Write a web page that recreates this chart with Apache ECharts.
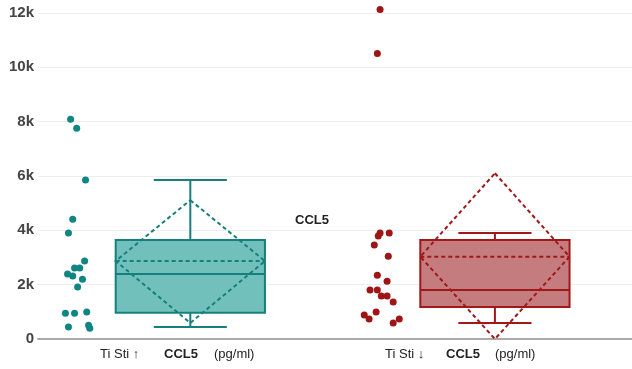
<!DOCTYPE html>
<html>
<head>
<meta charset="utf-8">
<script src="https://cdn.jsdelivr.net/npm/echarts@6/dist/echarts.min.js"></script>
<style>html,body{margin:0;padding:0;background:#fff;}#c{width:632px;height:369px;}</style>
</head>
<body>
<div id="c"></div>
<script>
// ---- data ----
var groups = ['Ti Sti ↑', 'Ti Sti ↓'];
var groupPos = [1, 2];
var yTicks = [0, 2000, 4000, 6000, 8000, 10000, 12000];
// box stats: [min, q1, median, q3, max]
var tealBox = [440, 967, 2390, 3640, 5850];
var redBox = [590, 1176, 1800, 3640, 3900];
// mean and diamond (low, high)
var tealMean = [2870, 590, 5110];
var redMean = [3030, 0, 6100];
// individual points
var tealValues = [8090, 7760, 5850, 4410, 3900, 2870, 2610, 2610, 2390, 2320, 2200, 1910, 950, 950, 990, 440, 510, 400];
var tealJitter = [-0.023, -0.003, 0.026, -0.016, -0.030, 0.023, 0.007, -0.010, -0.033, -0.016, 0.016, 0, -0.040, -0.010, 0.030, -0.030, 0.036, 0.040];
var redValues = [12130, 10510, 3900, 3900, 3790, 3460, 3050, 2350, 2130, 1800, 1800, 1580, 1580, 1360, 880, 740, 990, 590, 740];
var redJitter = [-0.007, -0.016, -0.007, 0.023, -0.013, -0.026, 0.020, -0.016, 0.016, -0.040, -0.016, -0.003, 0.016, 0.036, -0.059, -0.043, -0.020, 0.036, 0.056];

var dotOffset = -0.37;
var boxWidth = 0.49;
var capWidth = 0.24;

var colors = [
  {stroke: '#15807d', fill: '#72c0bc', dot: '#0f8682'},
  {stroke: '#a01818', fill: '#c47c7f', dot: '#9e1515'}
];

function dots(vals, jit, g) {
  return vals.map(function (v, i) { return [groupPos[g] + dotOffset + jit[i], v]; });
}

var boxData = [
  [groupPos[0]].concat(tealBox).concat(tealMean).concat([0]),
  [groupPos[1]].concat(redBox).concat(redMean).concat([1])
];

function renderBox(params, api) {
  var x = api.value(0);
  var ci = api.value(9);
  var c = colors[ci];
  var hw = api.size([boxWidth, 0])[0] / 2;
  var cw = api.size([capWidth, 0])[0] / 2;
  var pMin = api.coord([x, api.value(1)]);
  var pQ1 = api.coord([x, api.value(2)]);
  var pMed = api.coord([x, api.value(3)]);
  var pQ3 = api.coord([x, api.value(4)]);
  var pMax = api.coord([x, api.value(5)]);
  var pMean = api.coord([x, api.value(6)]);
  var pLo = api.coord([x, api.value(7)]);
  var pHi = api.coord([x, api.value(8)]);
  var cx = pMin[0];
  var solid = {stroke: c.stroke, lineWidth: 2, fill: null};
  var dashed = {stroke: c.stroke, lineWidth: 2, fill: null, lineDash: [4, 3]};
  return {
    type: 'group',
    children: [
      {type: 'line', shape: {x1: cx, y1: pQ3[1], x2: cx, y2: pMax[1]}, style: solid},
      {type: 'line', shape: {x1: cx, y1: pQ1[1], x2: cx, y2: pMin[1]}, style: solid},
      {type: 'line', shape: {x1: cx - cw, y1: pMax[1], x2: cx + cw, y2: pMax[1]}, style: solid},
      {type: 'line', shape: {x1: cx - cw, y1: pMin[1], x2: cx + cw, y2: pMin[1]}, style: solid},
      {type: 'rect', shape: {x: cx - hw, y: pQ3[1], width: 2 * hw, height: pQ1[1] - pQ3[1]},
        style: {fill: c.fill, stroke: c.stroke, lineWidth: 2}},
      {type: 'line', shape: {x1: cx - hw, y1: pMed[1], x2: cx + hw, y2: pMed[1]}, style: solid},
      {type: 'line', shape: {x1: cx - hw, y1: pMean[1], x2: cx + hw, y2: pMean[1]}, style: dashed},
      {type: 'polygon', shape: {points: [[cx, pHi[1]], [cx + hw, pMean[1]], [cx, pLo[1]], [cx - hw, pMean[1]]]}, style: dashed}
    ]
  };
}

var chart = echarts.init(document.getElementById('c'), null, {renderer: 'canvas'});
var labelFont = 'Liberation Sans, Arial, sans-serif';
chart.setOption({
  animation: false,
  backgroundColor: '#fff',
  grid: {left: 38, right: 0, top: 13, bottom: 30, containLabel: false},
  xAxis: {
    type: 'value', min: 0.5, max: 2.45,
    axisLine: {show: true, onZero: false, lineStyle: {color: '#aaa', width: 2}},
    axisTick: {show: false}, axisLabel: {show: false}, splitLine: {show: false}
  },
  yAxis: {
    type: 'value', min: yTicks[0], max: yTicks[yTicks.length - 1], interval: yTicks[1] - yTicks[0],
    axisLine: {show: false}, axisTick: {show: false},
    axisLabel: {margin: 4, color: '#444', fontSize: 15, fontWeight: 'bold', fontFamily: labelFont,
      formatter: function (v) { return v === 0 ? '0' : (v / 1000) + 'k'; }},
    splitLine: {lineStyle: {color: '#eeeeee', width: 1}}
  },
  series: [
    {type: 'custom', renderItem: renderBox, data: boxData, z: 2, clip: false},
    {type: 'scatter', data: dots(tealValues, tealJitter, 0), symbolSize: 7, clip: false,
      itemStyle: {color: colors[0].dot, opacity: 1}, z: 3},
    {type: 'scatter', data: dots(redValues, redJitter, 1), symbolSize: 7, clip: false,
      itemStyle: {color: colors[1].dot, opacity: 1}, z: 3}
  ],
  graphic: [
    {type: 'text', left: 295, top: 214, style: {text: 'CCL5', font: 'bold 13px ' + labelFont, fill: '#222'}},
    {type: 'text', left: 100, top: 348, style: {text: groups[0], font: '13px ' + labelFont, fill: '#222'}},
    {type: 'text', left: 164, top: 348, style: {text: 'CCL5', font: 'bold 13px ' + labelFont, fill: '#222'}},
    {type: 'text', left: 214, top: 348, style: {text: '(pg/ml)', font: '13px ' + labelFont, fill: '#222'}},
    {type: 'text', left: 385, top: 348, style: {text: groups[1], font: '13px ' + labelFont, fill: '#222'}},
    {type: 'text', left: 446, top: 348, style: {text: 'CCL5', font: 'bold 13px ' + labelFont, fill: '#222'}},
    {type: 'text', left: 495, top: 348, style: {text: '(pg/ml)', font: '13px ' + labelFont, fill: '#222'}}
  ]
});
</script>
</body>
</html>
